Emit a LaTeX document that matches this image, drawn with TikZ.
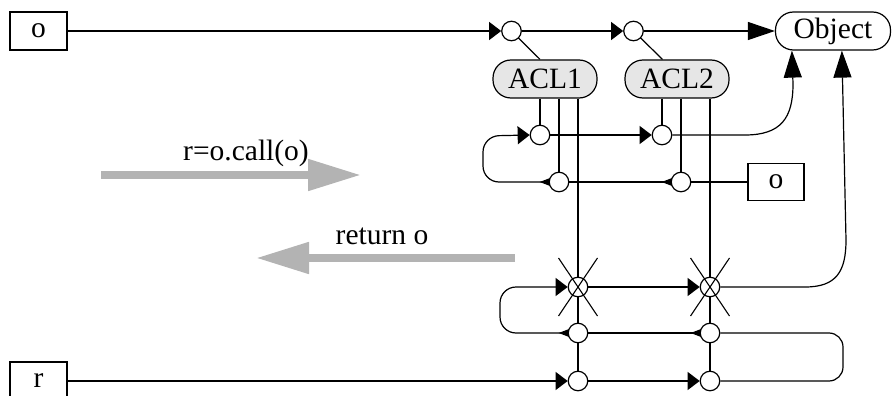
\documentclass[tikz,border=0pt]{standalone}
\usepackage{fontspec}
\setmainfont{Liberation Serif}
\usetikzlibrary{arrows.meta,backgrounds,calc}
\definecolor{aclgray}{HTML}{E6E6E6}
\definecolor{flowgray}{HTML}{B3B3B3}
\begin{document}
\begin{tikzpicture}[x=1pt,y=-1pt,
  every node/.style={font=\fontsize{29.5}{34}\selectfont},
  box/.style={draw, line width=1.2pt, minimum width=57pt, minimum height=38pt, inner sep=0pt},
  pill/.style={draw, line width=1.2pt, rounded corners=18pt, minimum height=38pt, inner sep=0pt},
  knot/.style={draw, circle, fill=white, line width=1.2pt, minimum size=19.5pt, inner sep=0pt},
  ln/.style={line width=1.2pt},
  ain/.style={ln, -{Triangle[length=12pt,width=18pt]}},
  aobj/.style={ln, -{Triangle[length=27pt,width=18pt]}},
  aout/.style={ln, -{Triangle[length=16pt,width=12pt]}},
  cross/.style={line width=1.1pt},
  flow/.style={draw=flowgray, line width=8pt, -{Triangle[length=53pt,width=30pt]}, shorten >=-1pt}
]
\useasboundingbox (0,0) rectangle (892,396);

% boxes and pills
\node[box] (o1) at (38.5,31) {o};
\node[box] (r1) at (38.5,381) {r};
\node[box, minimum width=56pt, minimum height=37pt] (o2) at (776,182) {o};
\node[pill, minimum width=115pt] (obj) at (833,31) {Object};
\node[pill, fill=aclgray, minimum width=104pt] (acl1) at (545,79) {ACL1};
\node[pill, fill=aclgray, minimum width=104pt] (acl2) at (677,79) {ACL2};

% knots
\node[knot] (c1) at (511.5,31) {};
\node[knot] (c2) at (633.5,31) {};
\node[knot] (c5) at (540,135) {};
\node[knot] (c6) at (662,135) {};
\node[knot] (c3) at (559,182) {};
\node[knot] (c4) at (681,182) {};
\node[knot] (c7) at (578,287) {};
\node[knot] (c8) at (710,287) {};
\node[knot] (c9) at (578,333) {};
\node[knot] (c10) at (710,333) {};
\node[knot] (c11) at (578,381) {};
\node[knot] (c12) at (710,381) {};

\coordinate (objb1) at ([xshift=17pt]obj.south west);
\coordinate (objb2) at ([xshift=67pt]obj.south west);

\begin{scope}[on background layer]
  % top row
  \draw[ain] (o1.east) -- (c1.west);
  \draw[ain] (c1.east) -- (c2.west);
  \draw[aobj] (c2.east) -- (obj.west);
  % links to ACLs
  \draw[ln] (c1.center) -- ([xshift=-5pt]acl1.north);
  \draw[ln] (c2.center) -- ([xshift=-14.5pt]acl2.north);
  % verticals
  \draw[ln] (acl1.south -| c5) -- (c5.center);
  \draw[ln] (acl1.south -| c3) -- (c3.center);
  \draw[ln] (acl1.south -| c7) -- (c11.center);
  \draw[ln] (acl2.south -| c6) -- (c6.center);
  \draw[ln] (acl2.south -| c4) -- (c4.center);
  \draw[ln] (acl2.south -| c8) -- (c12.center);
  % middle rows
  \draw[ln] (o2.west) -- (c4.east);
  \draw[ln] (c4.west) -- (c3.east);
  \draw[aout] (c4.center) -- ([xshift=-9pt]c4.west);
  \draw[aout] (c3.center) -- ([xshift=-9pt]c3.west);
  \draw[ain, rounded corners=16pt] (c3.west) -- (483,182) -- (483,136) -- (c5.west);
  \draw[ain] (c5.east) -- (c6.west);
  \draw[aobj] (c6.east) -- (745,135) .. controls (781,135) and (793,118) .. (793,84) -- (objb1);
  % bottom rows
  \draw[ain] (r1.east) -- (c11.west);
  \draw[ain] (c11.east) -- (c12.west);
  \draw[ln, rounded corners=14pt] (c12.east) -- (843,381) -- (843,333) -- (c10.east);
  \draw[ln] (c10.west) -- (c9.east);
  \draw[aout] (c10.center) -- ([xshift=-9pt]c10.west);
  \draw[aout] (c9.center) -- ([xshift=-9pt]c9.west);
  \draw[ain, rounded corners=16pt] (c9.west) -- (500,333) -- (500,287) -- (c7.west);
  \draw[ain] (c7.east) -- (c8.west);
  \draw[aobj] (c8.east) -- (805,287) .. controls (836,287) and (846,272) .. (846,240) -- (objb2);
\end{scope}

% crosses
\foreach \c in {c7,c8} {
  \draw[cross] ([shift={(-19.5,-29)}]\c.center) -- ([shift={(19.5,29)}]\c.center);
  \draw[cross] ([shift={(19.5,-29)}]\c.center) -- ([shift={(-19.5,29)}]\c.center);
}

% flow arrows
\coordinate (fa1) at (101,175);
\coordinate (fa2) at (360,175);
\coordinate (fb1) at (515,258);
\coordinate (fb2) at (257,258);
\draw[flow] (fa1) -- (fa2);
\draw[flow] (fb1) -- (fb2);
\node (lcall) at (246,153) {r=o.call(o)};
\node (lret) at (382,236) {return o};
\end{tikzpicture}
\end{document}
